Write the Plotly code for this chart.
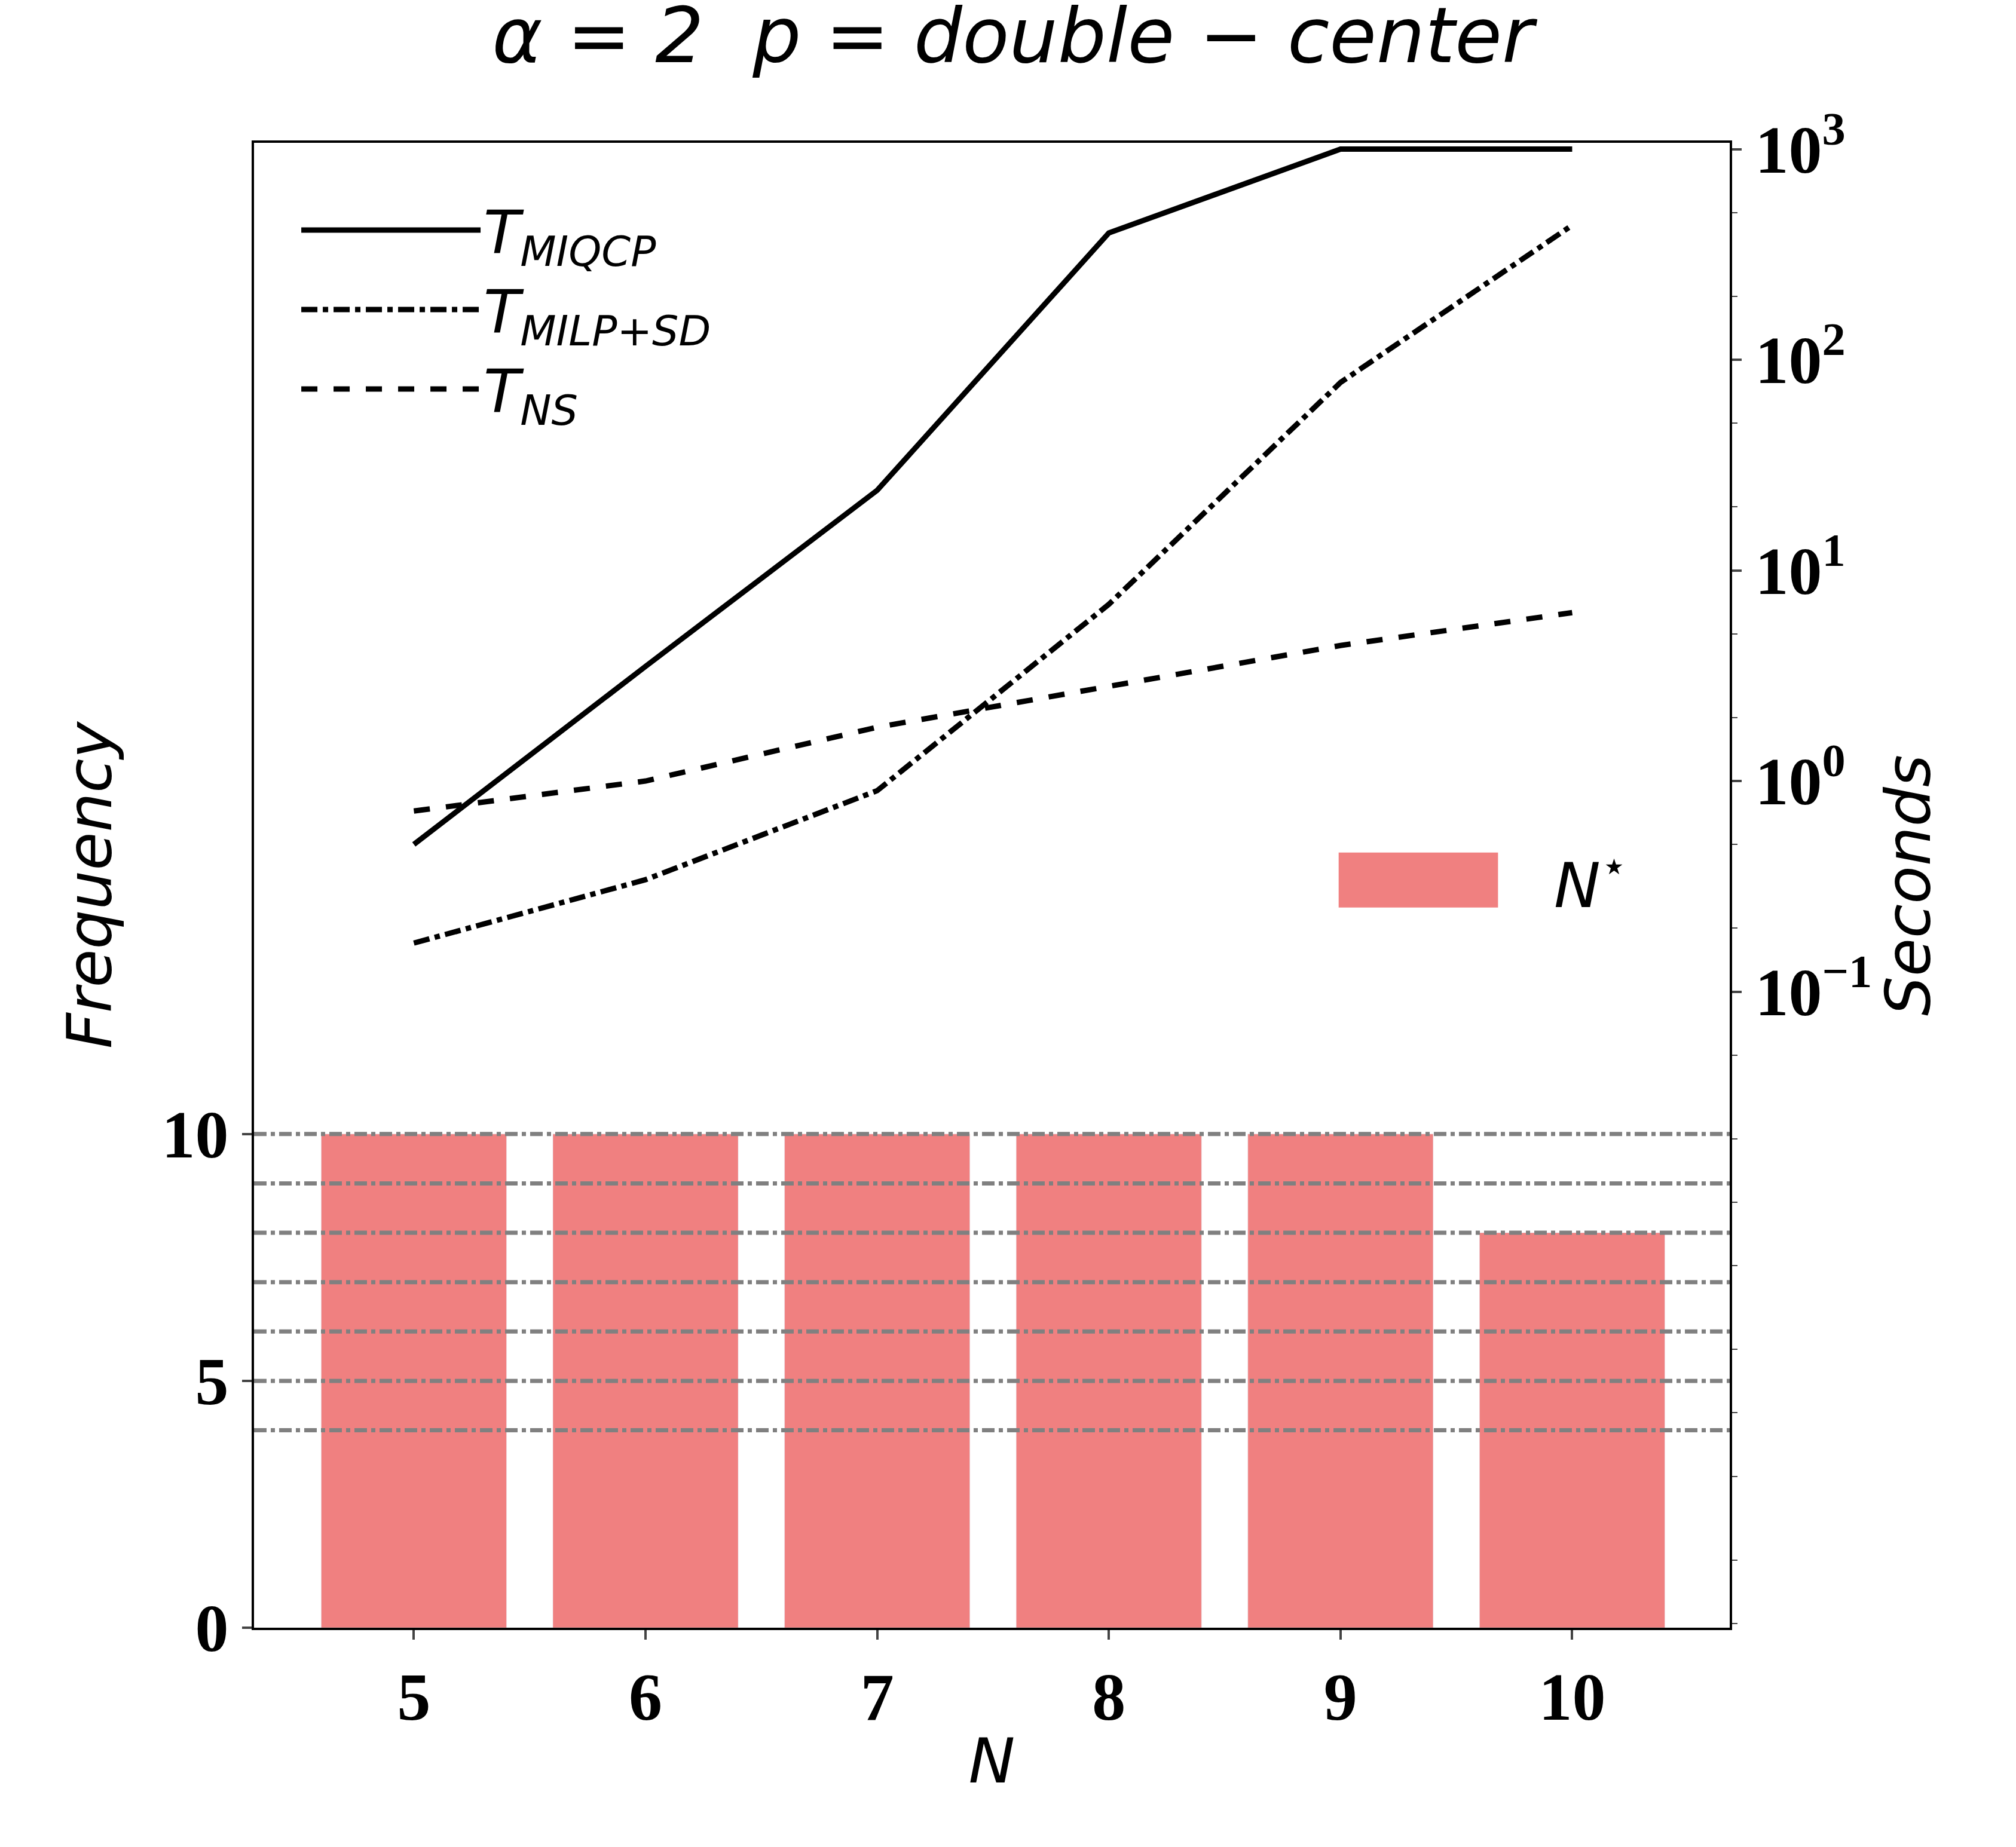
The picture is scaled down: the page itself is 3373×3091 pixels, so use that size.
import plotly.graph_objects as go

n_vals = [5, 6, 7, 8, 9, 10]
freq = [10, 10, 10, 10, 10, 8]
t_miqcp = [0.5, 3.5, 24, 400, 1000, 1000]
t_milp_sd = [0.17, 0.34, 0.9, 6.9, 78, 435]
t_ns = [0.72, 1.0, 1.8, 2.8, 4.4, 6.3]
ref_levels = [4, 5, 6, 7, 8, 9, 10]

bar_color = "#f08080"
tick_font = dict(family="Liberation Serif", size=112, color="black")
lab_font = dict(family="DejaVu Sans", size=104, color="black")

fig = go.Figure()
fig.add_trace(go.Bar(x=n_vals, y=freq, width=0.8, marker_color=bar_color,
                     showlegend=False, yaxis="y"))
for lvl in ref_levels:
    fig.add_shape(type="line", xref="paper", x0=0, x1=1, yref="y", y0=lvl, y1=lvl,
                  line=dict(color="gray", width=7, dash="dashdot"), layer="above")

for y, name, dash in [(t_miqcp, "<i>T</i><sub><i>MIQCP</i></sub>", "solid"),
                      (t_milp_sd, "<i>T</i><sub><i>MILP+SD</i></sub>", "dashdot"),
                      (t_ns, "<i>T</i><sub><i>NS</i></sub>", "dash")]:
    fig.add_trace(go.Scatter(x=n_vals, y=y, mode="lines", name=name, yaxis="y2",
                             line=dict(color="black", width=9, dash=dash)))

# bar legend entry (wide patch, like the reference)
fig.add_shape(type="rect", xref="paper", yref="paper", x0=0.735, x1=0.843, y0=0.485, y1=0.522,
              fillcolor=bar_color, line=dict(width=0))
fig.add_annotation(xref="paper", yref="paper", x=0.88, y=0.503, xanchor="left", yanchor="middle",
                   text="<i>N</i><sup>⋆</sup>", showarrow=False,
                   font=dict(family="DejaVu Sans", size=104, color="black"))

fig.update_layout(
    width=3373, height=3091,
    margin=dict(l=417, r=487, t=231, b=375),
    plot_bgcolor="white", paper_bgcolor="white",
    title=dict(text="<i>α = 2  p = double − center</i>", x=0.5, xanchor="center",
               y=0.998, yanchor="top", font=dict(family="DejaVu Sans", size=128, color="black")),
    xaxis=dict(range=[4.31, 10.68], tickvals=n_vals, ticktext=[f"<b>{n}</b>" for n in n_vals],
               tickfont=tick_font, ticks="outside", ticklen=16, tickwidth=4,
               showgrid=False, zeroline=False, showline=True, linecolor="black", linewidth=4,
               mirror=True, title=dict(text="<i>N</i>", font=lab_font, standoff=10)),
    yaxis=dict(range=[0, 30.08], tickvals=[0, 5, 10], ticktext=["<b>0</b>", "<b>5</b>", "<b>10</b>"],
               tickfont=tick_font, ticks="outside", ticklen=16, tickwidth=4,
               showgrid=False, zeroline=False, showline=True, linecolor="black", linewidth=4,
               title=dict(text="<i>Frequency</i>", font=lab_font, standoff=50)),
    yaxis2=dict(type="log", overlaying="y", side="right", range=[-4.02, 3.03],
                tickvals=[0.1, 1, 10, 100, 1000],
                ticktext=["<b>10<sup>−1</sup></b>", "<b>10<sup>0</sup></b>", "<b>10<sup>1</sup></b>",
                          "<b>10<sup>2</sup></b>", "<b>10<sup>3</sup></b>"],
                tickfont=tick_font, ticks="outside", ticklen=16, tickwidth=4,
                minor=dict(ticks="outside", ticklen=9, tickwidth=2, showgrid=False),
                showgrid=False, zeroline=False, showline=True, linecolor="black", linewidth=4,
                title=dict(text="<i>Seconds</i>", font=lab_font, standoff=10)),
    legend=dict(x=0.03, y=0.97, xanchor="left", yanchor="top", bgcolor="rgba(0,0,0,0)",
                font=dict(family="DejaVu Sans", size=100, color="black"),
                itemwidth=300, tracegroupgap=30),
)
fig.write_html("out.html")
